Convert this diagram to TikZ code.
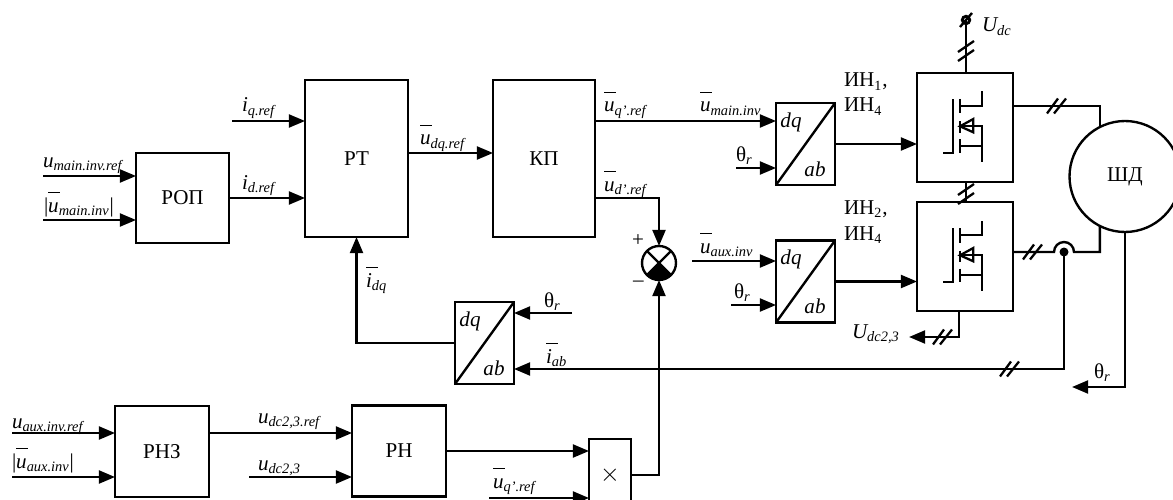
\documentclass[tikz,border=0pt]{standalone}
\usepackage{fontspec}
\setmainfont{Liberation Serif}
\usetikzlibrary{arrows.meta,positioning}

\newcommand{\bigit}[1]{\mbox{\fontsize{12}{12}\selectfont\itshape #1}}
\newcommand{\subit}[1]{\mbox{\fontsize{8.2}{9}\selectfont\itshape #1}}
\newcommand{\sg}[2]{$\bigit{#1}_{\subit{#2}}$}
\newcommand{\sgb}[2]{\rlap{\rule[10.6pt]{6.8pt}{0.8pt}}\sg{#1}{#2}}
\newcommand{\thr}{$\mbox{\fontsize{12}{12}\selectfont θ}_{\subit{r}}$}

\tikzset{
  mosfet/.pic={
    \draw[line width=1.3pt] (-21.7,25.5) -- (-12.3,25.5) -- (-12.3,-28.5);
    \draw[line width=1.3pt] (-5,-28.5) -- (-5,-14) (-5,-6) -- (-5,5.5) (-5,12) -- (-5,25.5);
    \draw[line width=1.3pt] (-5,-21.8) -- (16.7,-21.8) -- (16.7,-36);
    \draw[line width=1.3pt] (-5,-1.2) -- (16.7,-1.2) -- (16.7,34.5);
    \draw[line width=1.3pt] (-5,18.8) -- (16.7,18.8);
    \draw[line width=1.3pt,line join=miter] (-5,-1.2) -- (8.3,-8.5) -- (8.3,4.8) -- cycle;
  },
  hticks/.pic={
    \draw[line width=1.3pt] (-10,7.5) -- (1,-7.5) (-3,7.5) -- (9,-7.5);
  },
  vticks/.pic={
    \draw[line width=1.3pt] (-8,-1) -- (8,-12) (-8,8) -- (8,-3);
  }
}

\begin{document}
\begin{tikzpicture}[
  x=0.02cm,y=-0.02cm,
  font=\fontsize{12}{14}\selectfont,
  block/.style={draw,line width=1.35pt,inner sep=0pt,outer sep=0pt},
  line/.style={line width=1.35pt},
  sig/.style={line width=1.35pt,-{Triangle[length=9.2pt,width=7.4pt]}},
  txt/.style={anchor=base west,inner sep=0pt,outer sep=0pt}
]
\useasboundingbox (0,0) rectangle (1173,500);

% blocks
\node[block,minimum width=1.86cm,minimum height=1.8cm] (rop) at (182.5,198) {РОП};
\node[block,minimum width=2.06cm,minimum height=3.14cm] (rt) at (356.5,158.5) {РТ};
\node[block,minimum width=2.04cm,minimum height=3.14cm] (kp) at (544,158.5) {КП};
\node[block,minimum width=1.88cm,minimum height=1.82cm] (rnz) at (162,451.5) {РНЗ};
\node[block,minimum width=1.88cm,minimum height=1.82cm] (rn) at (399,451) {РН};
\node[block,minimum width=0.84cm,minimum height=1.44cm,font=\fontsize{15}{15}\selectfont] (mul) at (610,475) {$\times$};
\node[block,minimum width=1.92cm,minimum height=2.18cm] (invA) at (965,127.5) {};
\node[block,minimum width=1.92cm,minimum height=2.18cm] (invB) at (965,256.5) {};
\node[block,circle,minimum size=2.22cm] (motor) at (1125,176.5) {ШД};
\node[block,circle,minimum size=0.68cm] (sum) at (659,263) {};

% dq/ab blocks
\node[block,minimum width=1.18cm,minimum height=1.64cm] (dqA) at (805.5,144) {};
\draw[line] (dqA.south west) -- (dqA.north east);
\node[block,draw=none] (dqAa) at (791,122) {\bigit{dq}};
\node[block,draw=none] (dqAb) at (815,169) {\bigit{ab}};
\node[block,minimum width=1.18cm,minimum height=1.64cm] (dqB) at (805.5,281.5) {};
\draw[line] (dqB.south west) -- (dqB.north east);
\node[block,draw=none] (dqBa) at (791,259.5) {\bigit{dq}};
\node[block,draw=none] (dqBb) at (815,306.5) {\bigit{ab}};
\node[block,minimum width=1.18cm,minimum height=1.64cm] (dqC) at (484.5,343) {};
\draw[line] (dqC.south west) -- (dqC.north east);
\node[block,draw=none] (dqCa) at (470,321) {\bigit{dq}};
\node[block,draw=none] (dqCb) at (494,368) {\bigit{ab}};

% transistors
\pic at (invA.center) {mosfet};
\pic at (invB.center) {mosfet};

% summing junction
\draw[line] (sum.45) -- (sum.225) (sum.135) -- (sum.-45);
\fill (sum.center) -- (sum.-135) arc[start angle=-135,end angle=-45,radius=0.34cm] -- cycle;

% free ends
\coordinate (inRopA) at (43,176);
\coordinate (inRopB) at (43,220);
\coordinate (inRtQ) at (232,121);
\coordinate (inRnzA) at (12,433);
\coordinate (inRnzB) at (12,477);
\coordinate (inRnB) at (249,477);
\coordinate (inMulB) at (489,498);
\coordinate (inMulA) at (446,451);
\coordinate (dqLine) at (408,153);
\coordinate (kpQ) at (595,121);
\coordinate (thA) at (736,168);
\coordinate (thB) at (731,305);
\coordinate (thC) at (572,313);
\coordinate (thOut) at (1072,387);
\coordinate (auxIn) at (692,261);
\coordinate (term) at (966,20);
\coordinate (iabBus) at (1064,369);
\coordinate (udcOut) at (909,337);
\coordinate (invBd) at (959,311);
\coordinate (outA) at (1013,106);
\coordinate (outB) at (1013,252);
\coordinate (jumpL) at (1054,252);
\coordinate (kpD) at (595,198);

% connectors
\draw[sig] (inRopA) -- (rop.west |- inRopA);
\draw[sig] (inRopB) -- (rop.west |- inRopB);
\draw[sig] (rop.east) -- (rt.west |- rop.east);
\draw[sig] (inRtQ) -- (rt.west |- inRtQ);
\draw[sig] (dqLine) -- (kp.west |- dqLine);
\draw[sig] (kpQ) -- (dqA.west |- kpQ);
\draw[sig] (thA) -- (dqA.west |- thA);
\draw[sig] (dqA.east) -- (invA.west |- dqA.east);
\draw[sig] (auxIn) -- (dqB.west |- auxIn);
\draw[sig] (thB) -- (dqB.west |- thB);
\draw[sig] (dqB.east) -- (invB.west |- dqB.east);
\draw[sig] (kpD) -| (sum.north);
\draw[sig] (mul.east) -| (sum.south);
\draw[sig] (dqC.west) -| (rt.south);
\draw[sig] (thC) -- (dqC.east |- thC);
\draw[sig] (inRnzA) -- (rnz.west |- inRnzA);
\draw[sig] (inRnzB) -- (rnz.west |- inRnzB);
\draw[sig] (rnz.east |- inRnzA) -- (rn.west |- inRnzA);
\draw[sig] (inRnB) -- (rn.west |- inRnB);
\draw[sig] (inMulA) -- (mul.west |- inMulA);
\draw[sig] (inMulB) -- (mul.west |- inMulB);
\draw[line] (term) -- (invA.north -| term);
\draw[line] (invA.south -| term) -- (invB.north -| term);
\draw[line] (outA) -| (motor.117);
\draw[line] (outB) -- (jumpL) arc[start angle=180,end angle=0,radius=0.2cm] -| (motor.243);
\draw[sig] (jumpL -| iabBus) -- (iabBus) -- (dqC.east |- iabBus);
\draw[sig] (motor.south) |- (thOut);
\draw[sig] (invBd) |- (udcOut);

% terminal and dot
\node[circle,draw,line width=1.6pt,minimum size=0.15cm,inner sep=0pt] (termc) at (term) {};
\draw[line] (960,27) -- (972,13);
\node[circle,fill,minimum size=0.18cm,inner sep=0pt] (dot) at (jumpL -| iabBus) {};

% ticks
\pic at (1057,106) {hticks};
\pic at (1033,252) {hticks};
\pic at (943,337) {hticks};
\pic at (1010,369) {hticks};
\pic at (966,53) {vticks};
\pic at (966,196) {vticks};

% labels
\node[txt] (lRopA) at (43,167) {\sg{u}{main.inv.ref}};
\node[txt] (lRopB) at (44,212) {|\sgb{u}{main.inv}|};
\node[txt] (lQ) at (242,112) {\sg{i}{q.ref}};
\node[txt] (lD) at (242,189) {\sg{i}{d.ref}};
\node[txt] (lDq) at (420,145) {\sgb{u}{dq.ref}};
\node[txt] (lUq) at (604,112) {\sgb{u}{q'.ref}};
\node[txt] (lMain) at (700,112) {\sgb{u}{main.inv}};
\node[txt] (lUd) at (604,191) {\sgb{u}{d'.ref}};
\node[txt] (lThA) at (736,161) {\thr};
\node[txt] (lAux) at (700,253) {\sgb{u}{aux.inv}};
\node[txt] (lThB) at (734,298) {\thr};
\node[txt] (lIa) at (844,87) {ИН\textsubscript{1},};
\node[txt] (lIb) at (844,112) {ИН\textsubscript{4}};
\node[txt] (lIc) at (844,214) {ИН\textsubscript{2},};
\node[txt] (lId) at (844,240) {ИН\textsubscript{4}};
\node[txt] (lUdc) at (982,32) {\sg{U}{dc}};
\node[txt] (lUdcb) at (852,338) {\sg{U}{dc2,3}};
\node[txt] (lThD) at (1094,378) {\thr};
\node[txt] (lIdq) at (366,287) {\sgb{i}{dq}};
\node[txt] (lThC) at (544,307) {\thr};
\node[txt] (lIab) at (546,363) {\sgb{i}{ab}};
\node[txt] (lPlus) at (632,246) {+};
\node[txt] (lMinus) at (633,286) {–};
\node[txt] (lRnzA) at (12,428) {\sg{u}{aux.inv.ref}};
\node[txt] (lRnzB) at (12,468) {|\sgb{u}{aux.inv}|};
\node[txt] (lRnA) at (258,423) {\sg{u}{dc2,3.ref}};
\node[txt] (lRnB) at (258,470) {\sg{u}{dc2,3}};
\node[txt] (lMul) at (493,488) {\sgb{u}{q'.ref}};
\end{tikzpicture}
\end{document}
